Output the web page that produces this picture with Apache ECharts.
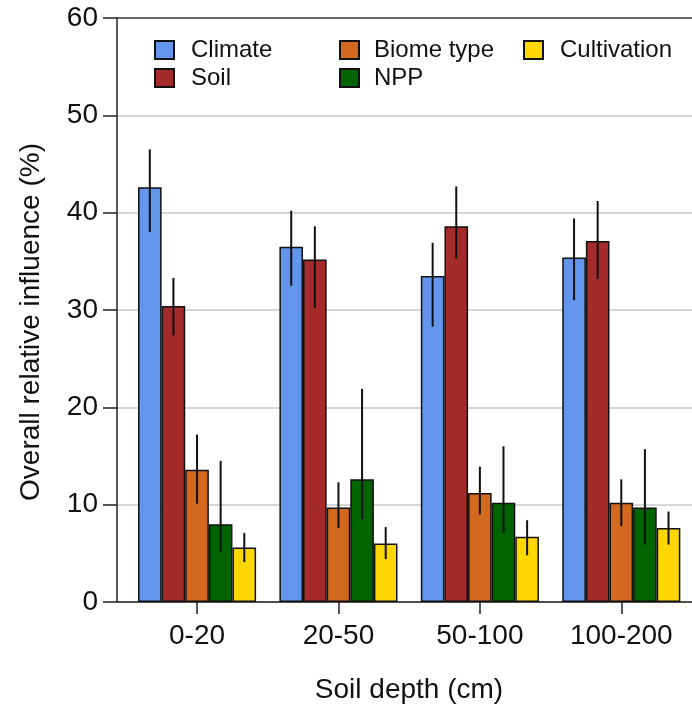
<!DOCTYPE html>
<html><head><meta charset="utf-8">
<script src="https://cdn.jsdelivr.net/npm/echarts@6/dist/echarts.min.js"></script>
<style>html,body{margin:0;padding:0;background:#fff}#c{width:692px;height:710px}</style>
</head><body><div id="c"></div>
<script>
const categories = ['0-20', '20-50', '50-100', '100-200'];
const factorNames = ['Climate', 'Soil', 'Biome type', 'NPP', 'Cultivation'];
const factorColors = ['#6495ED', '#A52A2A', '#D2691E', '#006400', '#FFD700'];

const climate   = [42.6, 36.5, 33.5, 35.4];
const climateLo = [38.0, 32.5, 28.3, 31.0];
const climateHi = [46.5, 40.2, 36.9, 39.4];

const soil   = [30.4, 35.2, 38.6, 37.1];
const soilLo = [27.4, 30.2, 35.3, 33.2];
const soilHi = [33.3, 38.6, 42.7, 41.2];

const biome   = [13.6, 9.7, 11.2, 10.2];
const biomeLo = [10.1, 7.6, 9.0, 7.8];
const biomeHi = [17.2, 12.3, 13.9, 12.6];

const npp   = [8.0, 12.6, 10.2, 9.7];
const nppLo = [5.1, 8.5, 7.1, 5.9];
const nppHi = [14.5, 21.9, 16.0, 15.7];

const cult   = [5.6, 6.0, 6.7, 7.6];
const cultLo = [4.1, 4.4, 4.8, 5.9];
const cultHi = [7.1, 7.7, 8.4, 9.3];

const values = [climate, soil, biome, npp, cult];
const lows = [climateLo, soilLo, biomeLo, nppLo, cultLo];
const highs = [climateHi, soilHi, biomeHi, nppHi, cultHi];

const BAR_FRAC = 0.167;
const FONT = '"Liberation Sans", Arial, sans-serif';
const catIdx = categories.map((c, i) => i);

const series = [];
factorNames.forEach((name, j) => {
  series.push({
    name: name,
    type: 'bar',
    barWidth: (BAR_FRAC * 100) + '%',
    barGap: '0%',
    z: 2,
    itemStyle: { color: factorColors[j], borderColor: '#111', borderWidth: 1.5 },
    data: catIdx.map(i => [i, values[j][i]])
  });
});
factorNames.forEach((name, j) => {
  series.push({
    name: name + ' error',
    type: 'custom',
    z: 5,
    silent: true,
    encode: { x: 0, y: [1, 2] },
    renderItem: function (params, api) {
      const x = api.value(0);
      const band = api.size([1, 0])[0];
      const off = (j - 2) * band * BAR_FRAC;
      const p1 = api.coord([x, api.value(1)]);
      const p2 = api.coord([x, api.value(2)]);
      return {
        type: 'line',
        shape: { x1: p1[0] + off, y1: p1[1], x2: p2[0] + off, y2: p2[1] },
        style: { stroke: '#111', lineWidth: 2 }
      };
    },
    data: catIdx.map(i => [i, lows[j][i], highs[j][i]])
  });
});

function legendCol(data, left, pad) {
  return {
    data: data, orient: 'vertical', left: left, top: 31,
    itemWidth: 19, itemHeight: 18, itemGap: 0, icon: 'rect',
    selectedMode: false,
    textStyle: { fontFamily: FONT, fontSize: 24, color: '#111', lineHeight: 28, padding: [0, 0, 0, pad] }
  };
}

const chart = echarts.init(document.getElementById('c'), null, { renderer: 'canvas' });
chart.setOption({
  animation: false,
  backgroundColor: '#fff',
  textStyle: { fontFamily: FONT },
  grid: { left: 117, right: 0, top: 18, bottom: 108, containLabel: false, outerBoundsMode: 'none' },
  legend: [
    legendCol(['Climate', 'Soil'], 149, 12),
    legendCol(['Biome type', 'NPP'], 334, 10),
    legendCol(['Cultivation'], 518, 12)
  ],
  xAxis: [{
    type: 'value', min: -0.566, max: 3.5,
    name: 'Soil depth (cm)', nameLocation: 'middle', nameGap: 74,
    nameTextStyle: { fontFamily: FONT, fontSize: 28, color: '#111', padding: [0, 0, 0, 9] },
    axisLine: { show: true, onZero: false, lineStyle: { color: '#222', width: 1.5 } },
    axisTick: { show: true, customValues: catIdx, length: 12, lineStyle: { color: '#222', width: 1.5 } },
    axisLabel: { customValues: catIdx, formatter: v => categories[Math.round(v)], fontFamily: FONT, fontSize: 28, color: '#111', margin: 20 },
    splitLine: { show: false }
  }, {
    type: 'value', min: -0.566, max: 3.5, position: 'top',
    axisLine: { show: true, onZero: false, lineStyle: { color: '#444', width: 1.5 } },
    axisTick: { show: false }, axisLabel: { show: false }, splitLine: { show: false }
  }],
  yAxis: {
    type: 'value', min: 0, max: 60, interval: 10,
    name: 'Overall relative influence (%)', nameLocation: 'middle', nameGap: 72,
    nameTextStyle: { fontFamily: FONT, fontSize: 28, color: '#111', padding: [0, 24, 0, 0] },
    axisLine: { show: true, onZero: false, lineStyle: { color: '#222', width: 1.5 } },
    axisTick: { show: true, length: 14, lineStyle: { color: '#222', width: 1.5 } },
    axisLabel: { fontFamily: FONT, fontSize: 28, color: '#111', margin: 19 },
    splitLine: { show: true, lineStyle: { color: '#c8c8c8', width: 1.5 } }
  },
  series: series
});
</script>
</body></html>
